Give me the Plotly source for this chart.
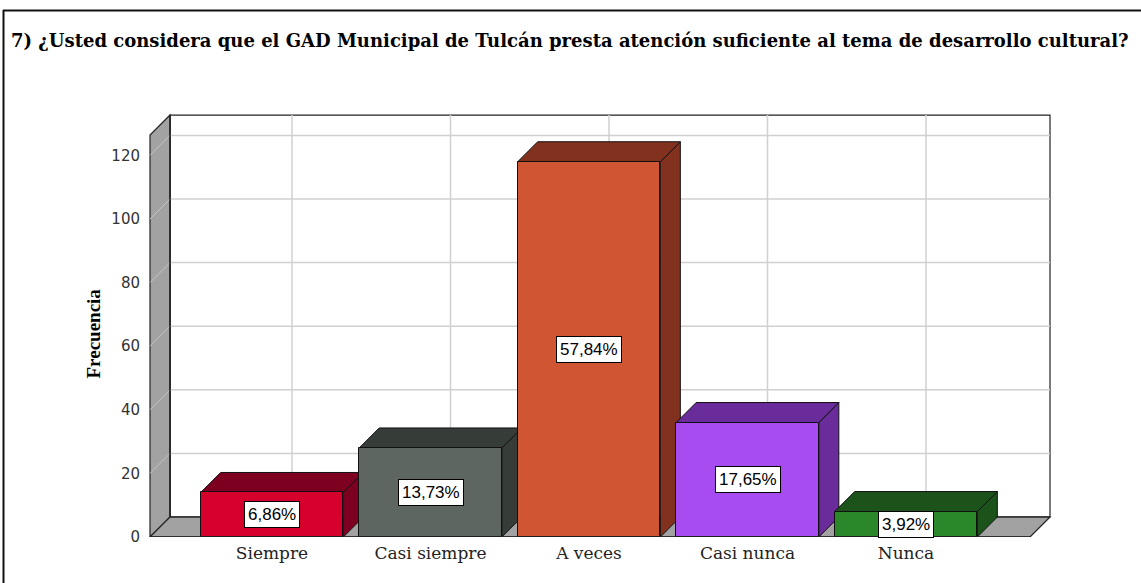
import plotly.graph_objects as go

# ---- data ----
categories = ["Siempre", "Casi siempre", "A veces", "Casi nunca", "Nunca"]
frequencies = [14, 28, 118, 36, 8]
percent_labels = ["6,86%", "13,73%", "57,84%", "17,65%", "3,92%"]
y_ticks = [0, 20, 40, 60, 80, 100, 120]
title_text = "7) ¿Usted considera que el GAD Municipal de Tulcán presta atención suficiente al tema de desarrollo cultural?"
y_title = "Frecuencia"

front_colors = ["#d5002b", "#5d6660", "#d05533", "#a64cf0", "#2a882a"]
dark_colors = ["#7e0020", "#363c38", "#83311f", "#6a2c9a", "#1b531a"]

# ---- geometry (in axis units) ----
W, H = 1141, 583
ML, MR, MT, MB = 148, 89, 110, 46
PX_PER_X = 158.5
PX_PER_Y = 3.18
X0_PX = 272  # pixel of category 0
plot_w = W - ML - MR
plot_h = H - MT - MB
x_range = [(ML - X0_PX) / PX_PER_X, (ML + plot_w - X0_PX) / PX_PER_X]
y_range = [0, plot_h / PX_PER_Y]

DX = 20 / PX_PER_X  # depth offset
DY = 20 / PX_PER_Y
XL = (150 - X0_PX) / PX_PER_X
XR = (1030 - X0_PX) / PX_PER_X
CEIL = 126.4
BW = 0.9

WALL = "#a2a2a2"
GRID = "#d0d0d0"
EDGE = "#222222"


def path(pts):
    return "M " + " L ".join(f"{x},{y}" for x, y in pts) + " Z"


def px2paper_x(px):
    return (px - ML) / plot_w


def px2paper_y(py):
    return (H - MB - py) / plot_h


shapes = []
# back wall
shapes.append(dict(type="rect", xref="x", yref="y", x0=XL + DX, x1=XR + DX, y0=DY, y1=CEIL + DY,
                   fillcolor="white", line=dict(color=EDGE, width=1.2), layer="below"))
# left wall
shapes.append(dict(type="path", xref="x", yref="y",
                   path=path([(XL, 0), (XL, CEIL), (XL + DX, CEIL + DY), (XL + DX, DY)]),
                   fillcolor=WALL, line=dict(color=EDGE, width=1.2), layer="below"))
# floor
shapes.append(dict(type="path", xref="x", yref="y",
                   path=path([(XL, 0), (XR, 0), (XR + DX, DY), (XL + DX, DY)]),
                   fillcolor=WALL, line=dict(color=EDGE, width=1.2), layer="below"))
# grid on back wall and left wall
for v in y_ticks[1:]:
    shapes.append(dict(type="line", xref="x", yref="y", x0=XL + DX, x1=XR + DX, y0=v + DY, y1=v + DY,
                       line=dict(color=GRID, width=1.5), layer="below"))
    shapes.append(dict(type="line", xref="x", yref="y", x0=XL, x1=XL + DX, y0=v, y1=v + DY,
                       line=dict(color="#c4c4c4", width=1), layer="below"))
for i in range(len(categories)):
    shapes.append(dict(type="line", xref="x", yref="y", x0=i + DX, x1=i + DX, y0=DY, y1=CEIL + DY,
                       line=dict(color=GRID, width=1.5), layer="below"))
# re-stroke wall edges over grid
shapes.append(dict(type="line", xref="x", yref="y", x0=XL + DX, x1=XL + DX, y0=DY, y1=CEIL + DY,
                   line=dict(color=EDGE, width=1.5), layer="below"))
shapes.append(dict(type="line", xref="x", yref="y", x0=XL + DX, x1=XR + DX, y0=DY, y1=DY,
                   line=dict(color=EDGE, width=1), layer="below"))

# bar tops and sides (between grid and traces)
for i, v in enumerate(frequencies):
    xl, xr = i - BW / 2, i + BW / 2
    shapes.append(dict(type="path", xref="x", yref="y",
                       path=path([(xr, 0), (xr, v), (xr + DX, v + DY), (xr + DX, DY)]),
                       fillcolor=dark_colors[i], line=dict(color="#111111", width=1), layer="between"))
    shapes.append(dict(type="path", xref="x", yref="y",
                       path=path([(xl, v), (xl + DX, v + DY), (xr + DX, v + DY), (xr, v)]),
                       fillcolor=dark_colors[i], line=dict(color="#111111", width=1), layer="between"))

# outer frame
shapes.append(dict(type="line", xref="paper", yref="paper",
                   x0=px2paper_x(3), x1=px2paper_x(W + 5), y0=px2paper_y(10.5), y1=px2paper_y(10.5),
                   line=dict(color="#111111", width=2)))
shapes.append(dict(type="line", xref="paper", yref="paper",
                   x0=px2paper_x(3.5), x1=px2paper_x(3.5), y0=px2paper_y(10), y1=px2paper_y(H + 5),
                   line=dict(color="#111111", width=2)))
# floor front edge
shapes.append(dict(type="line", xref="x", yref="y", x0=XL, x1=XR, y0=0, y1=0,
                   line=dict(color=EDGE, width=1.5), layer="above"))

fig = go.Figure()
fig.add_trace(go.Bar(
    x=list(range(len(categories))), y=frequencies, width=BW,
    marker=dict(color=front_colors, line=dict(color="#111111", width=1)),
    hoverinfo="skip", showlegend=False,
))

annotations = []
for i, (v, lab) in enumerate(zip(frequencies, percent_labels)):
    annotations.append(dict(x=i, y=v / 2, xref="x", yref="y", text=lab, showarrow=False,
                            font=dict(family="Liberation Sans", size=17, color="black"),
                            bgcolor="white", bordercolor="black", borderwidth=1, borderpad=3))
annotations.append(dict(x=px2paper_x(80), y=px2paper_y(334), xref="paper", yref="paper",
                        text=f"<b>{y_title}</b>", textangle=-90, showarrow=False,
                        font=dict(family="Liberation Serif", size=19, color="black")))
annotations.append(dict(x=px2paper_x(9), y=px2paper_y(40), xref="paper", yref="paper",
                        xanchor="left", yanchor="middle", text=f"<b>{title_text}</b>", showarrow=False,
                        font=dict(family="DejaVu Serif", size=18, color="black")))

fig.update_layout(
    width=W, height=H,
    margin=dict(l=ML, r=MR, t=MT, b=MB, pad=0),
    paper_bgcolor="white", plot_bgcolor="white",
    shapes=shapes, annotations=annotations,
    bargap=0,
    xaxis=dict(range=x_range, tickvals=list(range(len(categories))), ticktext=categories,
               showgrid=False, zeroline=False, showline=False, ticks="", ticklabelstandoff=4,
               tickfont=dict(family="DejaVu Serif", size=17, color="#222222"), fixedrange=True),
    yaxis=dict(range=y_range, tickvals=y_ticks, showgrid=False, zeroline=False, showline=False,
               ticks="", ticklabelstandoff=7,
               tickfont=dict(family="DejaVu Sans", size=15, color="#333333"), fixedrange=True),
)

fig.write_html("out.html", config={"displayModeBar": False},
               post_script="document.body.style.margin='0';")
